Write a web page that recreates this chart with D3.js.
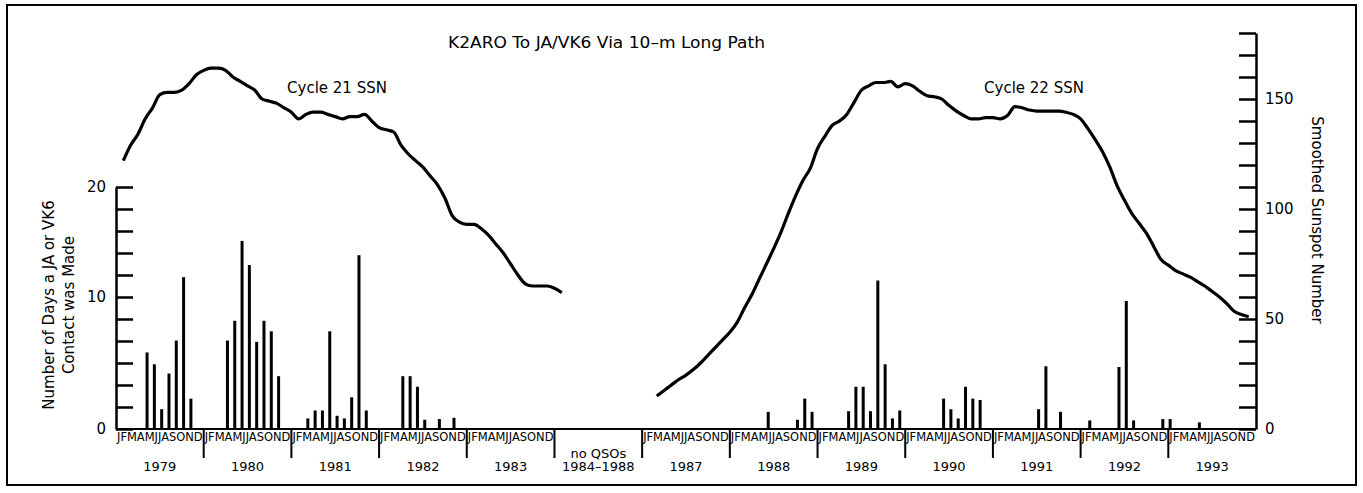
<!DOCTYPE html>
<html>
<head>
<meta charset="utf-8">
<script src="https://d3js.org/d3.v7.min.js"></script>
<style>
body { margin: 0; background: #fff; }
text { font-family: "DejaVu Sans", sans-serif; fill: #000; }
</style>
</head>
<body>
<svg id="chart" width="1363" height="493"></svg>
<script>
//Slots along the bottom axis (the 1984-1986 gap gets one slot).
var slotLabels = ["1979", "1980", "1981", "1982", "1983", "no QSOs", "1987", "1988", "1989", "1990", "1991", "1992", "1993"];
var monthLetters = "JFMAMJJASOND";
var leftTicks = [0, 10, 20];
var rightTicks = [0, 50, 100, 150];

//Days per month on which a JA or VK6 contact was made, Jan..Dec.
var days1979 = [0, 0, 0, 0, 5.8, 4.9, 1.5, 4.2, 6.7, 11.8, 2.3, 0];
var days1980 = [0, 0, 0, 6.7, 8.2, 15.1, 12.9, 6.6, 8.2, 7.4, 4.0, 0];
var days1981 = [0, 0, 0.8, 1.4, 1.4, 7.4, 1.0, 0.8, 2.4, 13.8, 1.4, 0];
var days1982 = [0, 0, 0, 4.0, 4.0, 3.2, 0.7, 0, 0.75, 0, 0.85, 0];
var days1983 = [0, 0, 0, 0, 0, 0, 0, 0, 0, 0, 0, 0];
var days1987 = [0, 0, 0, 0, 0, 0, 0, 0, 0, 0, 0, 0];
var days1988 = [0, 0, 0, 0, 0, 1.3, 0, 0, 0, 0.7, 2.3, 1.3];
var days1989 = [0, 0, 0, 0, 1.35, 3.2, 3.2, 1.35, 11.5, 4.9, 0.8, 1.4];
var days1990 = [0, 0, 0, 0, 0, 2.3, 1.5, 0.8, 3.2, 2.3, 2.2, 0];
var days1991 = [0, 0, 0, 0, 0, 0, 1.5, 4.75, 0, 1.3, 0, 0];
var days1992 = [0, 0.65, 0, 0, 0, 4.7, 9.7, 0.65, 0, 0, 0, 0.75];
var days1993 = [0.75, 0, 0, 0, 0.5, 0, 0, 0, 0, 0, 0, 0];

//Smoothed sunspot number, monthly.
//Cycle 21: Jan 1979 .. Jan 1984
var ssn21 = [122, 129, 134, 141, 146, 152, 153, 153, 154, 157, 161, 163,
             164, 164, 163, 160, 158, 156, 154, 150, 149, 148, 146, 144,
             141, 143, 144, 144, 143, 142, 141, 142, 142, 143, 140, 137,
             136, 135, 129, 125, 122, 119, 115, 111, 105, 97, 94, 93,
             93, 91, 88, 84, 80, 75, 70, 66, 65, 65, 65, 64,
             62];
//Cycle 22: Feb 1987 .. Nov 1993
var ssn22 = [15, 17.5, 20, 22.5, 24.5, 27, 30, 33.5, 37, 40.5, 44,
             48.5, 55, 61, 68, 75, 82, 89.5, 98, 106, 113, 118.5, 127.5,
             133, 138, 140, 143, 148.5, 154, 156, 157.5, 157.5, 158, 155.5, 157,
             156, 153.5, 151.5, 151, 150, 147, 144.5, 142.5, 141, 141, 141.5, 141.5,
             141, 142.5, 146.5, 146, 145, 144.5, 144.5, 144.5, 144.5, 144, 143, 141,
             136.5, 131.5, 126, 119, 110.5, 104, 98, 93.5, 89, 83, 77, 74.5,
             72, 70.5, 69, 67, 65, 62.5, 60, 57, 53.5, 52, 51];

var daysByYear = {
    1979: days1979, 1980: days1980, 1981: days1981, 1982: days1982, 1983: days1983,
    1987: days1987, 1988: days1988, 1989: days1989, 1990: days1990, 1991: days1991,
    1992: days1992, 1993: days1993
};

//Which axis slot a year falls in.
function slotOf(year) {
    if (year < 1984) return year - 1979;
    if (year < 1987) return 5;
    return year - 1981;
}

var svg = d3.select("#chart");

//Scales: x runs over slots, right axis is SSN, left axis days (unevenly drawn on the original).
var x = d3.scaleLinear().domain([0, 13]).range([116, 1256]);
var ySsn = d3.scaleLinear().domain([0, 180]).range([429, 33]);
var yDays = d3.scaleLinear().domain([0, 10, 20]).range([ySsn(0), ySsn(60), ySsn(110)]);
var yLeftGrid = d3.scaleLinear().domain([0, 110]).range([ySsn(0), ySsn(110)]);

//Frame round the whole figure.
svg.append("rect")
    .attr("x", 7).attr("y", 5)
    .attr("width", 1349).attr("height", 480)
    .attr("fill", "none").attr("stroke", "#000").attr("stroke-width", 2);

//Flat list of bars.
var bars = [];
Object.keys(daysByYear).forEach(function(yr) {
    daysByYear[yr].forEach(function(v, m) {
        if (v > 0) bars.push({year: +yr, month: m, days: v});
    });
});

svg.append("g").selectAll("rect")
    .data(bars)
    .enter().append("rect")
    .attr("x", function(d) { return x(slotOf(d.year) + (d.month + 0.25) / 12) - 1.5; })
    .attr("width", 3)
    .attr("y", function(d) { return yDays(d.days); })
    .attr("height", function(d) { return yDays(0) - yDays(d.days); })
    .attr("fill", "#000");

//Sunspot curves.
var line = d3.line()
    .x(function(d) { return x(slotOf(d.year) + (d.month + 1) / 12); })
    .y(function(d) { return ySsn(d.ssn); })
    .curve(d3.curveMonotoneX);

var cyc21 = ssn21.map(function(v, k) { return {year: 1979 + Math.floor(k / 12), month: k % 12, ssn: v}; });
var cyc22 = ssn22.map(function(v, i) { var k = i + 1; return {year: 1987 + Math.floor(k / 12), month: k % 12, ssn: v}; });

svg.selectAll("path.ssn")
    .data([cyc21, cyc22])
    .enter().append("path")
    .attr("class", "ssn")
    .attr("d", line)
    .attr("fill", "none")
    .attr("stroke", "#000")
    .attr("stroke-width", 3.2)
    .attr("stroke-linejoin", "round");

//Left axis: ticks point inward, labels are days.
var leftAxis = svg.append("g").attr("transform", "translate(116,0)")
    .call(d3.axisRight(yLeftGrid).tickValues(d3.range(0, 111, 10)).tickSize(17).tickSizeOuter(0).tickFormat(""));
var leftLabels = svg.append("g").attr("transform", "translate(116,0)")
    .call(d3.axisLeft(yDays).tickValues(leftTicks).tickSize(0).tickPadding(10));
leftLabels.select(".domain").remove();

//Right axis: SSN.
var rightAxis = svg.append("g").attr("transform", "translate(1256,0)")
    .call(d3.axisRight(ySsn).tickValues(d3.range(0, 181, 10)).tickSize(-17).tickSizeOuter(0).tickPadding(9)
        .tickFormat(function(d) { return rightTicks.indexOf(d) >= 0 ? d : ""; }));

[leftAxis, rightAxis].forEach(function(g) {
    g.selectAll("path, line").attr("stroke", "#000").attr("stroke-width", 2.5);
});
[leftLabels, rightAxis].forEach(function(g) {
    g.selectAll("text").attr("font-size", 15).attr("font-family", "DejaVu Sans");
});

//Bottom baseline.
svg.append("line")
    .attr("x1", x(0)).attr("x2", x(13))
    .attr("y1", ySsn(0)).attr("y2", ySsn(0))
    .attr("stroke", "#000").attr("stroke-width", 2);

//Year separators.
svg.append("g").selectAll("line")
    .data(d3.range(1, 13))
    .enter().append("line")
    .attr("x1", function(d) { return x(d); }).attr("x2", function(d) { return x(d); })
    .attr("y1", ySsn(0)).attr("y2", 458)
    .attr("stroke", "#000").attr("stroke-width", 2);

//Month letters, squeezed into each year slot like the plotter font.
var yearSlots = d3.range(0, 13).filter(function(s) { return s !== 5; });
svg.append("g").selectAll("text")
    .data(yearSlots)
    .enter().append("text")
    .attr("x", function(d) { return x(d) + 1; })
    .attr("y", 441)
    .attr("font-size", 12)
    .attr("textLength", x(1) - x(0) - 2)
    .attr("lengthAdjust", "spacingAndGlyphs")
    .text(monthLetters);

//Year labels.
svg.append("g").selectAll("text")
    .data(slotLabels)
    .enter().append("text")
    .attr("x", function(d, i) { return x(i + 0.5); })
    .attr("y", function(d, i) { return i === 5 ? 458 : 471; })
    .attr("text-anchor", "middle")
    .attr("font-size", 13)
    .text(function(d) { return d; });
svg.append("text")
    .attr("x", x(5.5)).attr("y", 471)
    .attr("text-anchor", "middle")
    .attr("font-size", 13)
    .text("1984\u20131988");

//Titles.
svg.append("text")
    .attr("x", 448).attr("y", 48)
    .attr("font-size", 15)
    .attr("textLength", 317)
    .attr("lengthAdjust", "spacingAndGlyphs")
    .text("K2ARO To JA/VK6 Via 10\u2013m Long Path");
svg.append("text")
    .attr("x", 337).attr("y", 93)
    .attr("text-anchor", "middle")
    .attr("font-size", 15)
    .text("Cycle 21 SSN");
svg.append("text")
    .attr("x", 1034).attr("y", 93)
    .attr("text-anchor", "middle")
    .attr("font-size", 15)
    .text("Cycle 22 SSN");

//Axis titles.
svg.append("text")
    .attr("transform", "translate(54,305) rotate(-90)")
    .attr("text-anchor", "middle")
    .attr("font-size", 15)
    .text("Number of Days a JA or VK6");
svg.append("text")
    .attr("transform", "translate(74,305) rotate(-90)")
    .attr("text-anchor", "middle")
    .attr("font-size", 15)
    .text("Contact was Made");
svg.append("text")
    .attr("transform", "translate(1312,220) rotate(90)")
    .attr("text-anchor", "middle")
    .attr("font-size", 15)
    .text("Smoothed Sunspot Number");
</script>
</body>
</html>
